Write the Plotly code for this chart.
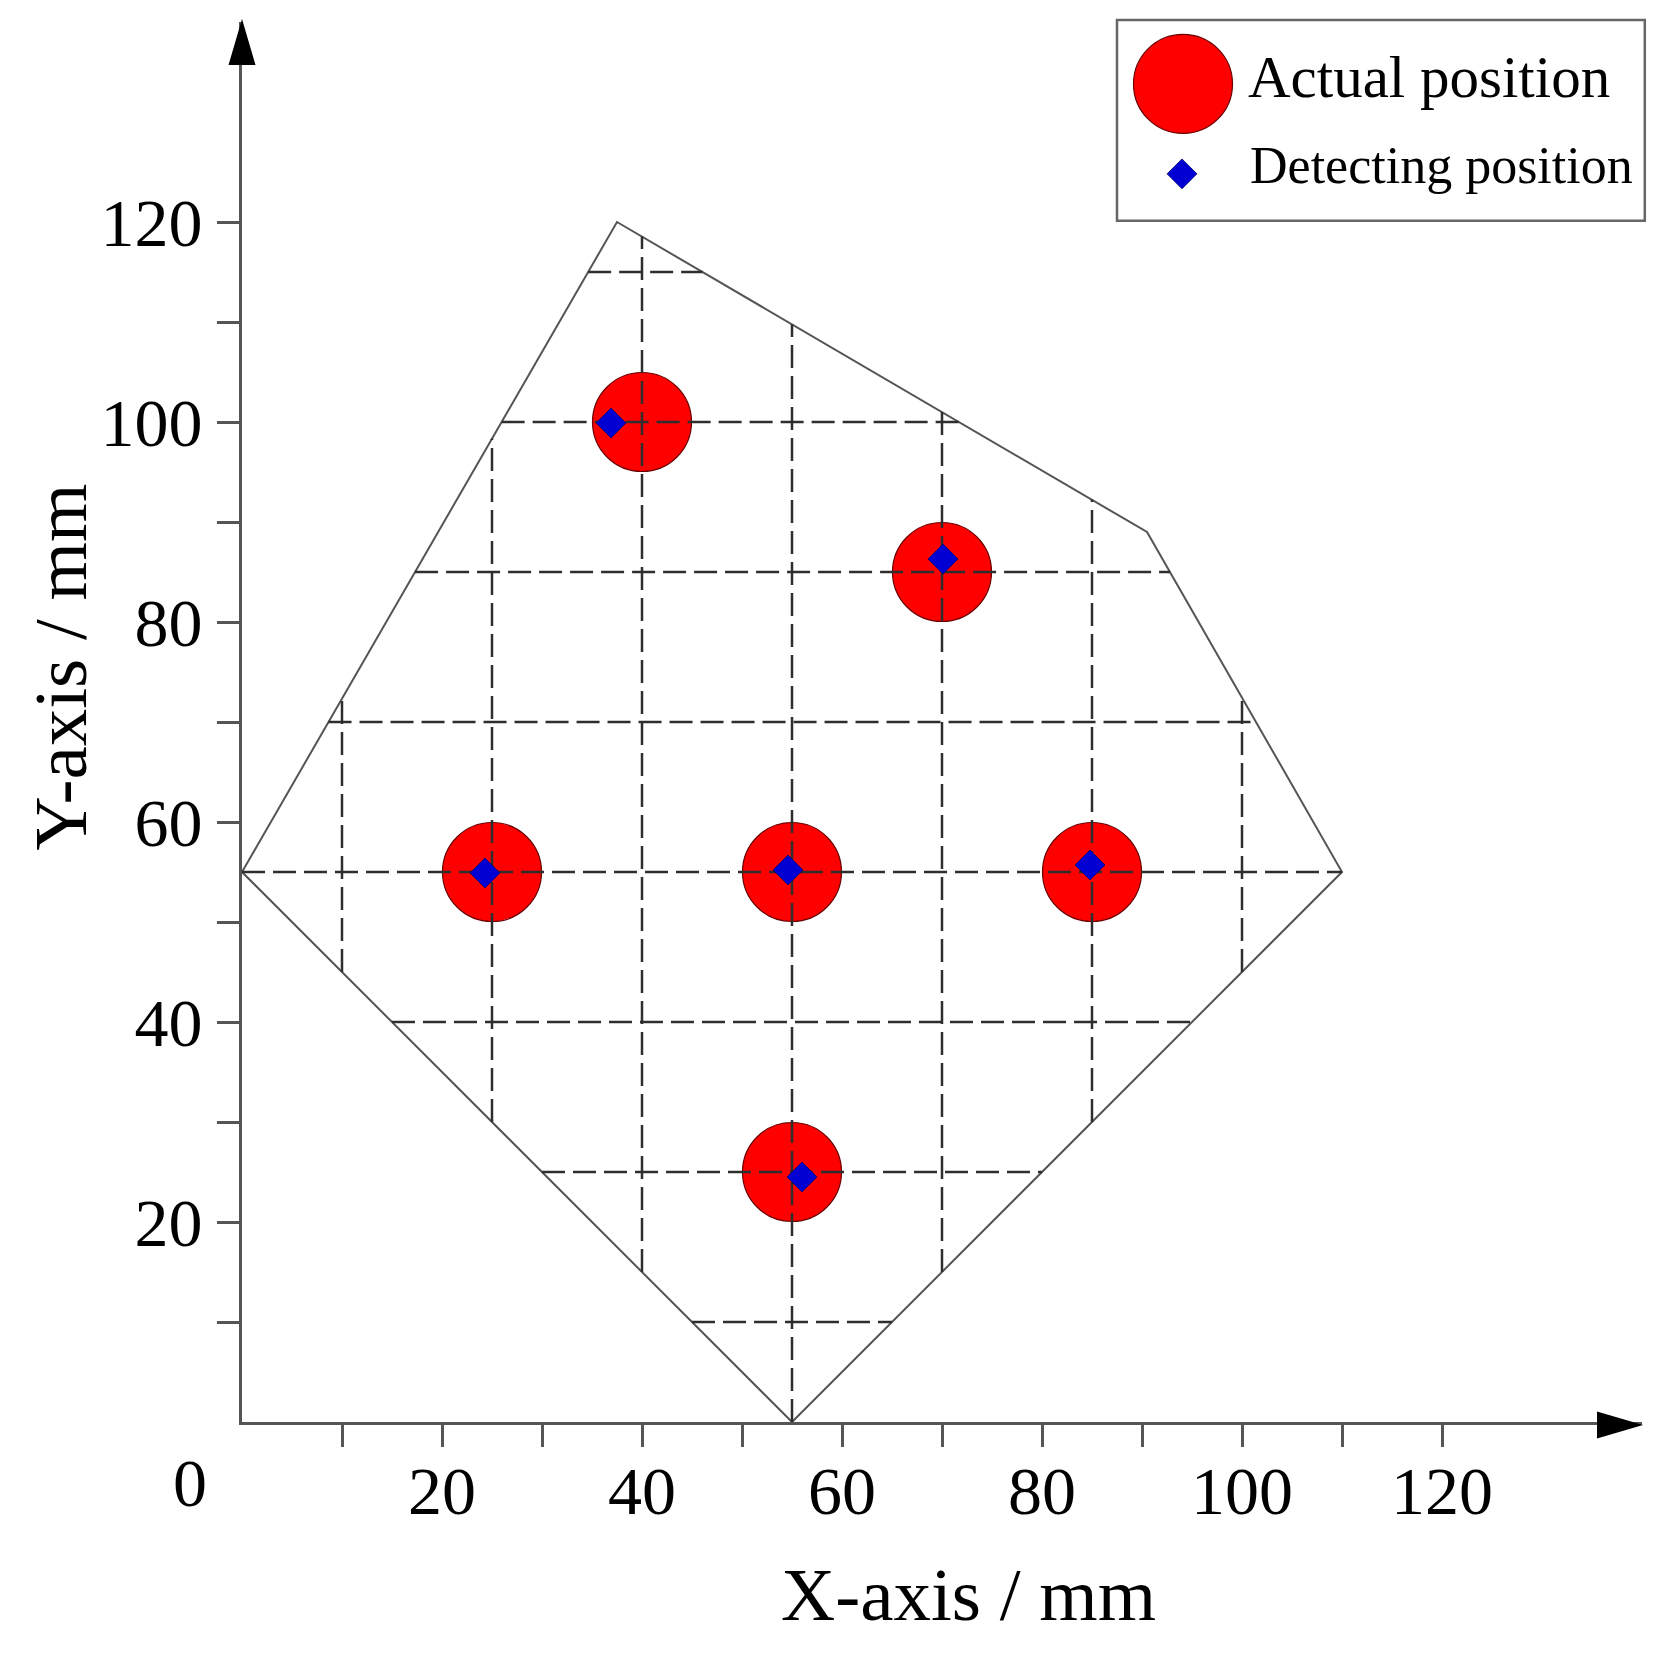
import plotly.graph_objects as go

# outline of the detecting region (mm), closed
region_x = [0, 37.5, 90.5, 110, 55, 0]
region_y = [55, 120, 89, 55, 0, 55]

# dashed grid lines inside the region (mm)
grid_x = [10, 25, 40, 55, 70, 85, 100]
grid_y = [10, 25, 40, 55, 70, 85, 100, 115]

# actual source positions and detected positions (mm)
actual_x = [40, 70, 25, 55, 85, 55]
actual_y = [100, 85, 55, 55, 55, 25]
detect_x = [36.9, 70.1, 24.3, 54.6, 84.8, 56.0]
detect_y = [99.9, 86.3, 54.9, 55.2, 55.7, 24.5]

tick_vals = [10, 20, 30, 40, 50, 60, 70, 80, 90, 100, 110, 120]
tick_text = ['', '20', '', '40', '', '60', '', '80', '', '100', '', '120']

FONT = 'Liberation Serif'


def clip_to_region(c, vertical):
    # ends of the line x=c (or y=c) where it meets the region outline
    hits = []
    pts = list(zip(region_x, region_y))
    for (x0, y0), (x1, y1) in zip(pts[:-1], pts[1:]):
        a0, a1 = (x0, x1) if vertical else (y0, y1)
        b0, b1 = (y0, y1) if vertical else (x0, x1)
        if a0 == a1:
            continue
        t = (c - a0) / (a1 - a0)
        if 0 <= t <= 1:
            hits.append(b0 + t * (b1 - b0))
    return min(hits), max(hits)


gx, gy = [], []
for c in grid_x:
    lo, hi = clip_to_region(c, True)
    gx += [c, c, None]
    gy += [lo, hi, None]
for c in grid_y:
    lo, hi = clip_to_region(c, False)
    gx += [lo, hi, None]
    gy += [c, c, None]

circle_marker = dict(size=99, color='#ff0000', line=dict(color='#6a0000', width=1.2))
diamond_marker = dict(size=23, symbol='diamond', color='#0000d2', line=dict(color='#000070', width=0.8))

fig = go.Figure()
fig.add_trace(go.Scatter(x=actual_x, y=actual_y, mode='markers', marker=circle_marker,
                         name='Actual position', showlegend=False))
fig.add_trace(go.Scatter(x=region_x, y=region_y, mode='lines',
                         line=dict(color='#555555', width=2), showlegend=False))
fig.add_trace(go.Scatter(x=gx, y=gy, mode='lines', connectgaps=False,
                         line=dict(color='#2e2e2e', width=2.5, dash='23px,8px'), showlegend=False))
fig.add_trace(go.Scatter(x=detect_x, y=detect_y, mode='markers', marker=diamond_marker,
                         name='Detecting position', showlegend=False))

# hand-made legend in its own small axes (pixel units inside the box)
fig.add_trace(go.Scatter(x=[66], y=[137], xaxis='x2', yaxis='y2', mode='markers',
                         marker=circle_marker, cliponaxis=False, showlegend=False))
fig.add_trace(go.Scatter(x=[65], y=[47], xaxis='x2', yaxis='y2', mode='markers',
                         marker=diamond_marker, cliponaxis=False, showlegend=False))

axis_style = dict(range=[0, 140], showline=True, linecolor='#555555', linewidth=3,
                  ticks='outside', ticklen=22, tickwidth=3, tickcolor='#555555',
                  tickmode='array', tickvals=tick_vals, ticktext=tick_text,
                  tickfont=dict(family=FONT, size=68, color='black'),
                  showgrid=False, zeroline=False)

fig.update_layout(
    width=1662, height=1647,
    margin=dict(l=234, r=28, t=14, b=233),
    paper_bgcolor='white', plot_bgcolor='white',
    showlegend=False,
    xaxis=dict(axis_style, ticklabelstandoff=-15),
    yaxis=dict(axis_style, ticklabelstandoff=1),
    xaxis2=dict(domain=[0.625, 1.0], anchor='y2', range=[0, 525], visible=False),
    yaxis2=dict(domain=[0.858, 1.0], anchor='x2', range=[0, 199], visible=False),
    shapes=[
        dict(type='rect', xref='paper', yref='paper', x0=0.625, x1=1.002, y0=0.858, y1=1.0014,
             line=dict(color='#666666', width=2.5), fillcolor='rgba(0,0,0,0)'),
        # arrow heads at the ends of the axes
        dict(type='path', xref='x domain', yref='y domain', xsizemode='pixel', ysizemode='pixel',
             xanchor=0, yanchor=1, path='M -13.5,-43 L 0,3 L 13.5,-43 Z',
             fillcolor='black', line=dict(width=0)),
        dict(type='path', xref='x domain', yref='y domain', xsizemode='pixel', ysizemode='pixel',
             xanchor=1, yanchor=0, path='M -45,10.5 L 1,-3 L -45,-16.5 Z',
             fillcolor='black', line=dict(width=0)),
    ],
    annotations=[
        dict(text='0', x=0, y=0, xref='x', yref='y', xshift=-52, yshift=-61, showarrow=False,
             font=dict(family=FONT, size=68, color='black')),
        dict(text='X-axis / mm', x=0.5186, y=-0.1234, xref='paper', yref='paper',
             xanchor='center', yanchor='middle', showarrow=False,
             font=dict(family=FONT, size=75, color='black')),
        dict(text='Y-axis / mm', x=-0.13, y=0.539, xref='paper', yref='paper',
             xanchor='center', yanchor='middle', showarrow=False,
             textangle=-90, font=dict(family=FONT, size=75, color='black')),
        dict(text='Actual position', x=129, y=144, xref='x2', yref='y2', xanchor='left',
             yanchor='middle', showarrow=False, font=dict(family=FONT, size=59, color='black')),
        dict(text='Detecting position', x=131, y=55, xref='x2', yref='y2', xanchor='left',
             yanchor='middle', showarrow=False, font=dict(family=FONT, size=52, color='black')),
    ],
)

fig.write_html('out.html')
